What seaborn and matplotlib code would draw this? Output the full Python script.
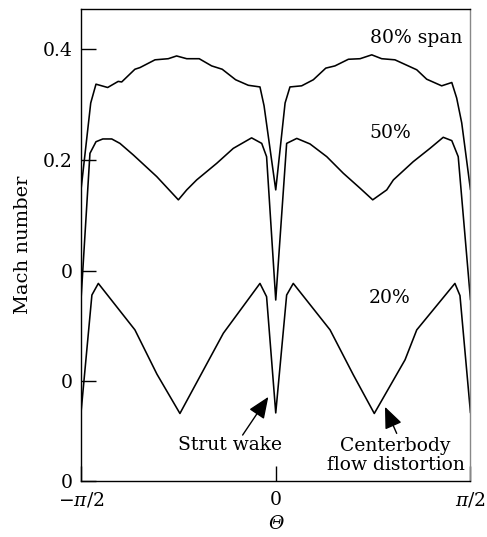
import numpy as np
import pandas as pd
import matplotlib
matplotlib.use("Agg")
import matplotlib.pyplot as plt
import seaborn as sns

# theta in units of pi/2
x80 = [-1.0, -0.950, -0.923, -0.863, -0.809, -0.791, -0.723, -0.697, -0.620, -0.552,
       -0.509, -0.457, -0.393, -0.329, -0.275, -0.206, -0.141, -0.081, -0.060, 0.0,
       0.048, 0.073, 0.133, 0.193, 0.257, 0.304, 0.373, 0.433, 0.493, 0.544,
       0.612, 0.724, 0.775, 0.852, 0.904, 0.929, 0.955, 1.0]
y80 = [0.146, 0.303, 0.337, 0.331, 0.342, 0.341, 0.364, 0.367, 0.381, 0.383,
       0.388, 0.383, 0.383, 0.370, 0.364, 0.345, 0.335, 0.332, 0.298, 0.146,
       0.303, 0.332, 0.334, 0.345, 0.366, 0.370, 0.382, 0.383, 0.390, 0.383,
       0.381, 0.363, 0.346, 0.334, 0.340, 0.312, 0.267, 0.146]

x50 = [-1.0, -0.954, -0.923, -0.888, -0.842, -0.800, -0.731, -0.611, -0.500, -0.457,
       -0.406, -0.303, -0.218, -0.124, -0.072, -0.047, 0.0, 0.056, 0.108, 0.176,
       0.262, 0.347, 0.433, 0.498, 0.570, 0.604, 0.706, 0.792, 0.860, 0.904,
       0.937, 1.0]
y50 = [-0.053, 0.212, 0.233, 0.238, 0.238, 0.230, 0.209, 0.170, 0.128, 0.146,
       0.164, 0.194, 0.221, 0.240, 0.230, 0.206, -0.053, 0.230, 0.239, 0.229,
       0.206, 0.176, 0.149, 0.128, 0.146, 0.164, 0.197, 0.221, 0.241, 0.235,
       0.206, -0.053]

x20 = [-1.0, -0.944, -0.911, -0.723, -0.610, -0.492, -0.269, -0.081, -0.047, 0.0,
       0.056, 0.090, 0.279, 0.398, 0.506, 0.664, 0.724, 0.920, 0.946, 1.0]
y20 = [-0.257, -0.044, -0.023, -0.107, -0.187, -0.258, -0.113, -0.023, -0.047, -0.257,
       -0.044, -0.023, -0.107, -0.188, -0.258, -0.161, -0.107, -0.023, -0.045, -0.257]

series_names = ["80% span", "50%", "20%"]
ytick_vals = [-0.38, -0.2, 0.0, 0.2, 0.4]
ytick_labels = ["0", "0", "0", "0.2", "0.4"]
xtick_vals = [-1, 0, 1]
xtick_labels = [r"$-\pi/2$", "0", r"$\pi/2$"]

df = pd.concat([
    pd.DataFrame({"theta": x80, "mach": y80, "span": series_names[0]}),
    pd.DataFrame({"theta": x50, "mach": y50, "span": series_names[1]}),
    pd.DataFrame({"theta": x20, "mach": y20, "span": series_names[2]}),
], ignore_index=True)

sns.set_style("ticks")
plt.rcParams["font.family"] = ["DejaVu Serif"]
plt.rcParams["mathtext.fontset"] = "dejavuserif"
for k in ["text.color", "axes.labelcolor", "xtick.color", "ytick.color", "axes.edgecolor"]:
    plt.rcParams[k] = "black"

fig = plt.figure(figsize=(4.87, 5.37), dpi=100)
ax = fig.add_axes([0.1663, 0.1043, 0.7998, 0.8784])

sns.lineplot(data=df, x="theta", y="mach", hue="span", units="span", estimator=None,
             sort=False, palette=["black"] * 3, legend=False, linewidth=1.15, ax=ax)

ax.set_xlim(-1, 1)
ax.set_ylim(-0.38, 0.4723)
ax.set_yticks(ytick_vals)
ax.set_yticklabels(ytick_labels)
ax.set_xticks(xtick_vals)
ax.set_xticklabels(xtick_labels)
ax.tick_params(axis="both", direction="in", length=10.5, width=1.0, labelsize=13.5, color="black")
ax.tick_params(axis="y", pad=6)
ax.tick_params(axis="x", pad=7)
for s in ax.spines.values():
    s.set_linewidth(1.0)
    s.set_color("black")
ax.spines["right"].set_color("#888888")

ax.set_xlabel("Θ", fontsize=13.5, fontstyle="italic", labelpad=4)
ax.set_ylabel("Mach number", fontsize=14, labelpad=8)

fs = 13.5
ax.text(0.7227, 0.420, series_names[0], ha="center", va="center", fontsize=fs)
ax.text(0.5866, 0.249, series_names[1], ha="center", va="center", fontsize=fs)
ax.text(0.5866, -0.049, series_names[2], ha="center", va="center", fontsize=fs)

astyle = "-|>,head_length=0.6,head_width=0.25"
ax.text(-0.234, -0.315, "Strut wake", ha="center", va="center", fontsize=fs)
ax.annotate("", xy=(-0.038, -0.228), xytext=(-0.170, -0.297),
            arrowprops=dict(arrowstyle=astyle, color="black", lw=1.0,
                            mutation_scale=22, shrinkA=0, shrinkB=0))
ax.text(0.616, -0.334, "Centerbody\nflow distortion", ha="center", va="center",
        fontsize=fs, linespacing=1.1)
ax.annotate("", xy=(0.561, -0.246), xytext=(0.621, -0.294),
            arrowprops=dict(arrowstyle=astyle, color="black", lw=1.0,
                            mutation_scale=22, shrinkA=0, shrinkB=0))

fig.savefig("out.png", dpi=100)
